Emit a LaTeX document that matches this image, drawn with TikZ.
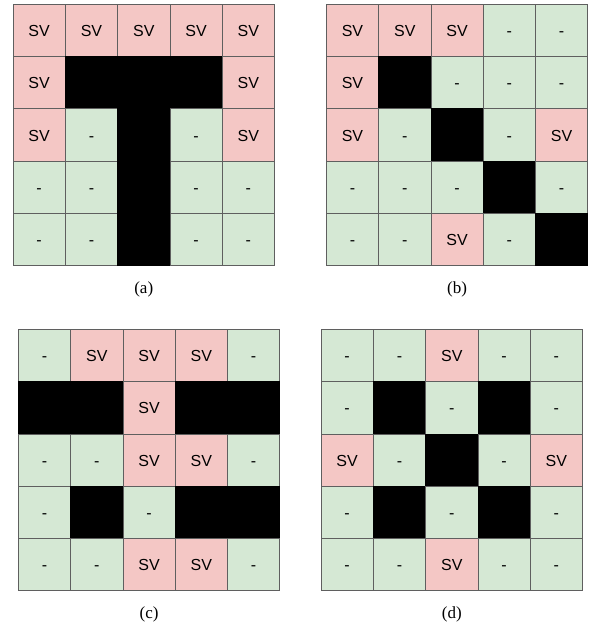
\documentclass[tikz,border=0pt]{standalone}
\usepackage{fontspec}
\setmainfont{Liberation Serif}
\newfontfamily\cellfont{Liberation Sans}
\usepackage{tikz}
\usetikzlibrary{positioning}

\definecolor{svpink}{RGB}{244,199,197}
\definecolor{nagreen}{RGB}{213,232,212}
\definecolor{cellline}{RGB}{95,95,95}

\tikzset{
    cellbox/.style={draw=cellline, line width=0.8pt, minimum size=52.3pt, inner sep=0pt,
        text height=12pt, text depth=0pt, font=\cellfont\fontsize{16}{18}\selectfont},
    sv/.style={cellbox, fill=svpink, node contents={SV}},
    na/.style={cellbox, fill=nagreen, node contents={-}},
    wall/.style={cellbox, fill=black, draw=black, node contents={}},
    caption/.style={inner sep=0pt, font=\fontsize{17}{19}\selectfont}
}

\begin{document}
\begin{tikzpicture}[x=1pt, y=-1pt]
\useasboundingbox (0,0) rectangle (592,631);

% Grid (a)
\begin{scope}[shift={(13,4.3)}]
    \foreach \row [count=\r from 0] in {{sv,sv,sv,sv,sv},{sv,wall,wall,wall,sv},{sv,na,wall,na,sv},{na,na,wall,na,na},{na,na,wall,na,na}} {
        \foreach \t [count=\c from 0] in \row {
            \node (a-\r-\c) at ({52.3*\c+26.15}, {52.3*\r+26.15}) [\t];
        }
    }
\end{scope}
\node[caption, below=15pt of a-4-2] (capa) {(a)};

% Grid (b)
\begin{scope}[shift={(326.3,4.3)}]
    \foreach \row [count=\r from 0] in {{sv,sv,sv,na,na},{sv,wall,na,na,na},{sv,na,wall,na,sv},{na,na,na,wall,na},{na,na,sv,na,wall}} {
        \foreach \t [count=\c from 0] in \row {
            \node (b-\r-\c) at ({52.3*\c+26.15}, {52.3*\r+26.15}) [\t];
        }
    }
\end{scope}
\node[caption, below=15pt of b-4-2] (capb) {(b)};

% Grid (c)
\begin{scope}[shift={(18.3,329.3)}]
    \foreach \row [count=\r from 0] in {{na,sv,sv,sv,na},{wall,wall,sv,wall,wall},{na,na,sv,sv,na},{na,wall,na,wall,wall},{na,na,sv,sv,na}} {
        \foreach \t [count=\c from 0] in \row {
            \node (c-\r-\c) at ({52.3*\c+26.15}, {52.3*\r+26.15}) [\t];
        }
    }
\end{scope}
\node[caption, below=15pt of c-4-2] (capc) {(c)};

% Grid (d)
\begin{scope}[shift={(321,329.3)}]
    \foreach \row [count=\r from 0] in {{na,na,sv,na,na},{na,wall,na,wall,na},{sv,na,wall,na,sv},{na,wall,na,wall,na},{na,na,sv,na,na}} {
        \foreach \t [count=\c from 0] in \row {
            \node (d-\r-\c) at ({52.3*\c+26.15}, {52.3*\r+26.15}) [\t];
        }
    }
\end{scope}
\node[caption, below=15pt of d-4-2] (capd) {(d)};
\end{tikzpicture}
\end{document}
